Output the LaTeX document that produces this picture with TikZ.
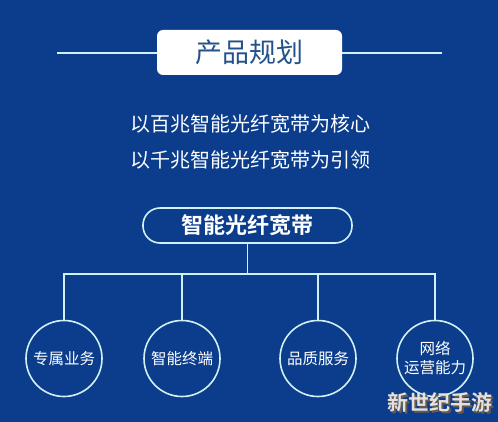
\documentclass[tikz,border=0pt]{standalone}
\usepackage{fontspec}
\setmainfont{Noto Sans CJK SC}
\newfontfamily\cjkb{Noto Sans CJK SC}[BoldFont={* Bold}]
\definecolor{bgblue}{HTML}{0B3D8C}
\definecolor{linec}{HTML}{D2F1F6}
\definecolor{titleblue}{HTML}{24538C}
\definecolor{wmgray}{HTML}{E4E2E0}
\definecolor{wmshadow}{HTML}{6B5A4A}
\tikzset{
  conn/.style={draw=linec, line width=1.6pt},
  leaf/.style={circle, draw=linec, line width=1.6pt, minimum size=76pt, inner sep=0pt, text=white, font=\fontsize{15.5}{19}\selectfont, align=center},
  bodytext/.style={text=white, font=\fontsize{20}{24}\selectfont, inner sep=0pt}
}
\begin{document}
\begin{tikzpicture}[x=1pt,y=-1pt]
\fill[bgblue] (0,0) rectangle (498,422);
\useasboundingbox (0,0) rectangle (498,422);
% title
\node[fill=white, rounded corners=6pt, minimum width=185pt, minimum height=45pt, inner sep=0pt, text=titleblue, font=\fontsize{27}{30}\selectfont] (title) at (249.5,52.5) {产品规划};
\coordinate (ll) at (57,53);
\coordinate (rl) at (442,53);
\draw[conn] (ll) -- (title.west |- ll);
\draw[conn] (title.east |- rl) -- (rl);
% lines
\node[bodytext] (l1) at (250,124) {以百兆智能光纤宽带为核心};
\node[bodytext] (l2) at (250,160) {以千兆智能光纤宽带为引领};
% pill
\node[draw=linec, line width=1.6pt, rounded corners=17pt, minimum width=209pt, minimum height=35pt, inner sep=0pt, text=white, font=\cjkb\bfseries\fontsize{22}{26}\selectfont] (pill) at (247.5,225.5) {智能光纤宽带};
% leaves
\node[leaf] (c1) at (64,358.5) {专属业务};
\node[leaf] (c2) at (182,358.5) {智能终端};
\node[leaf] (c3) at (318,358.5) {品质服务};
\node[leaf] (c4) at (435,358.5) {网络\\运营能力};
\coordinate (bus) at (247.5,274);
\draw[conn] (pill.south) -- (bus);
\draw[conn] (c1.north) -- (c1.north |- bus) -- (c4.north |- bus) -- (c4.north);
\draw[conn] (c2.north) -- (c2.north |- bus);
\draw[conn] (c3.north) -- (c3.north |- bus);
% watermark
\node[text=wmshadow, font=\cjkb\bfseries\fontsize{21}{24}\selectfont, inner sep=0pt] at (441.5,404) {新世纪手游};
\node[text=wmgray, font=\cjkb\bfseries\fontsize{21}{24}\selectfont, inner sep=0pt] (wm) at (440,402.5) {新世纪手游};
\end{tikzpicture}
\end{document}
